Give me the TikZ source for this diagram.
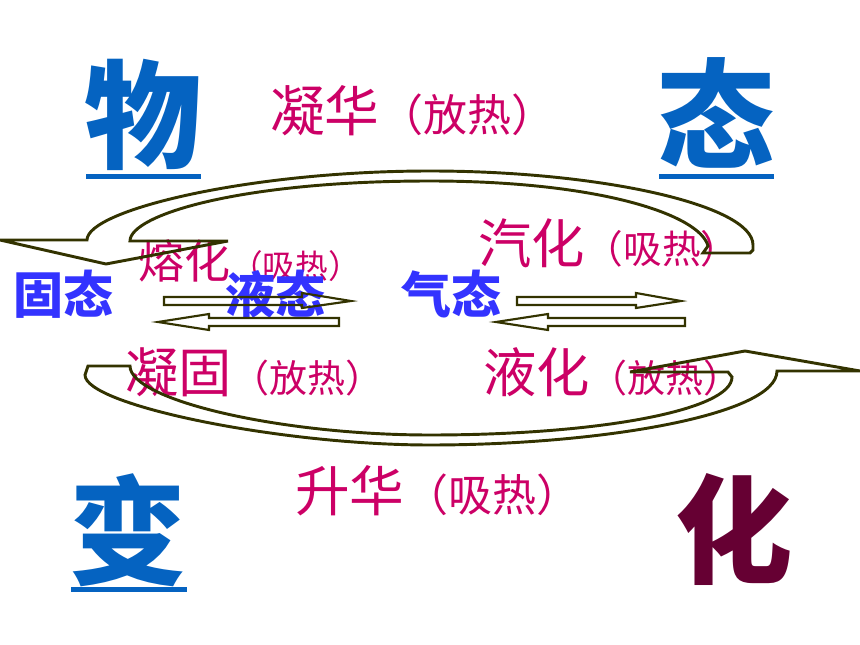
\documentclass[tikz,border=0pt]{standalone}
\usepackage{fontspec}
\newfontfamily\cjk{Noto Sans CJK SC}
\definecolor{magc}{HTML}{CC0066}
\definecolor{bluec}{HTML}{3333FF}
\definecolor{bigblue}{HTML}{0563C1}
\definecolor{maroonc}{HTML}{660033}
\definecolor{arrc}{HTML}{333300}
\tikzset{
  mag/.style={text=magc, anchor=base west, inner sep=0pt, font=\cjk},
  lbl/.style={text=bluec, anchor=base west, inner sep=0pt, font=\cjk\bfseries\fontsize{37.5}{37.5}\selectfont},
  big/.style={anchor=base west, inner sep=0pt, font=\cjk\bfseries\fontsize{88}{88}\selectfont},
  bigarrow/.style={draw=arrc, line width=2.2pt, line join=miter},
  smallarrow/.style={draw=arrc, line width=1.6pt, line join=miter},
  uline/.style={fill=bigblue, draw=none},
}
\begin{document}
\begin{tikzpicture}[x=0.75pt,y=-0.75pt]
\useasboundingbox (0,0) rectangle (860,645);
% big title characters
\node[big, text=bigblue] (wu) at (84,160) {物};
\node[big, text=bigblue] (tai) at (657,160) {态};
\node[big, text=bigblue] (bian) at (69,575) {变};
\node[big, text=maroonc] (hua) at (675,574) {化};
\fill[uline] (86,174) rectangle (201,179);
\fill[uline] (659,174) rectangle (774,179);
\fill[uline] (71,587) rectangle (187,592);
% process labels
\node[mag] (ninghua) at (270,132) {\fontsize{41}{41}\selectfont 凝华\fontsize{33}{33}\selectfont （放热）};
\node[mag] (shenghua) at (295,511) {\fontsize{41}{41}\selectfont 升华\fontsize{33}{33}\selectfont （吸热）};
\node[mag] (qihua) at (478,264) {\fontsize{40}{40}\selectfont 汽化\fontsize{29}{29}\selectfont （吸热）};
\node[mag] (yehua) at (483,392) {\fontsize{40}{40}\selectfont 液化\fontsize{28.5}{28.5}\selectfont （放热）};
\node[mag] (ninggu) at (125,392) {\fontsize{40}{40}\selectfont 凝固\fontsize{28.5}{28.5}\selectfont （放热）};
\node[mag] (ronghua) at (138,278) {\fontsize{34.5}{34.5}\selectfont 熔化\fontsize{24.5}{24.5}\selectfont （吸热）};
% states
\node[lbl] (gu) at (13,314) {固态};
\node[lbl] (ye) at (225,314) {液态};
\node[lbl] (qi) at (401,314) {气态};
% curved block arrow, top (pointing left)
\draw[bigarrow]
    (0,240) -- (87,240) .. controls (87,210) and (250,171) .. (430,171)
    .. controls (600,171) and (753,205) .. (753,245) -- (753,250) -- (750,253)
    -- (703,253) -- (708,246) .. controls (700,215) and (600,181) .. (430,181)
    .. controls (240,181) and (130,215) .. (130,241) -- (228,241) -- (106,264) -- cycle;
% curved block arrow, bottom (pointing right)
\draw[bigarrow]
    (860,371) -- (777,371) .. controls (777,415) and (600,445) .. (430,445)
    .. controls (280,445) and (85,405) .. (85,375) -- (88,366) -- (130,366)
    .. controls (130,400) and (280,435) .. (430,435)
    .. controls (600,435) and (732,410) .. (732,377) -- (728,372) -- (630,372)
    -- (745,351) -- cycle;
% straight block arrows
\draw[smallarrow] (164,297) -- (302,297) -- (302,293) -- (351,301) -- (302,308) -- (302,305) -- (164,305) -- cycle;
\draw[smallarrow] (158,322) -- (209,314) -- (209,318) -- (339,318) -- (339,326) -- (209,326) -- (209,330) -- cycle;
\draw[smallarrow] (517,297) -- (636,297) -- (636,293) -- (681,301) -- (636,308) -- (636,305) -- (517,305) -- cycle;
\draw[smallarrow] (496,322) -- (548,314) -- (548,318) -- (685,318) -- (685,326) -- (548,326) -- (548,330) -- cycle;
\end{tikzpicture}
\end{document}
